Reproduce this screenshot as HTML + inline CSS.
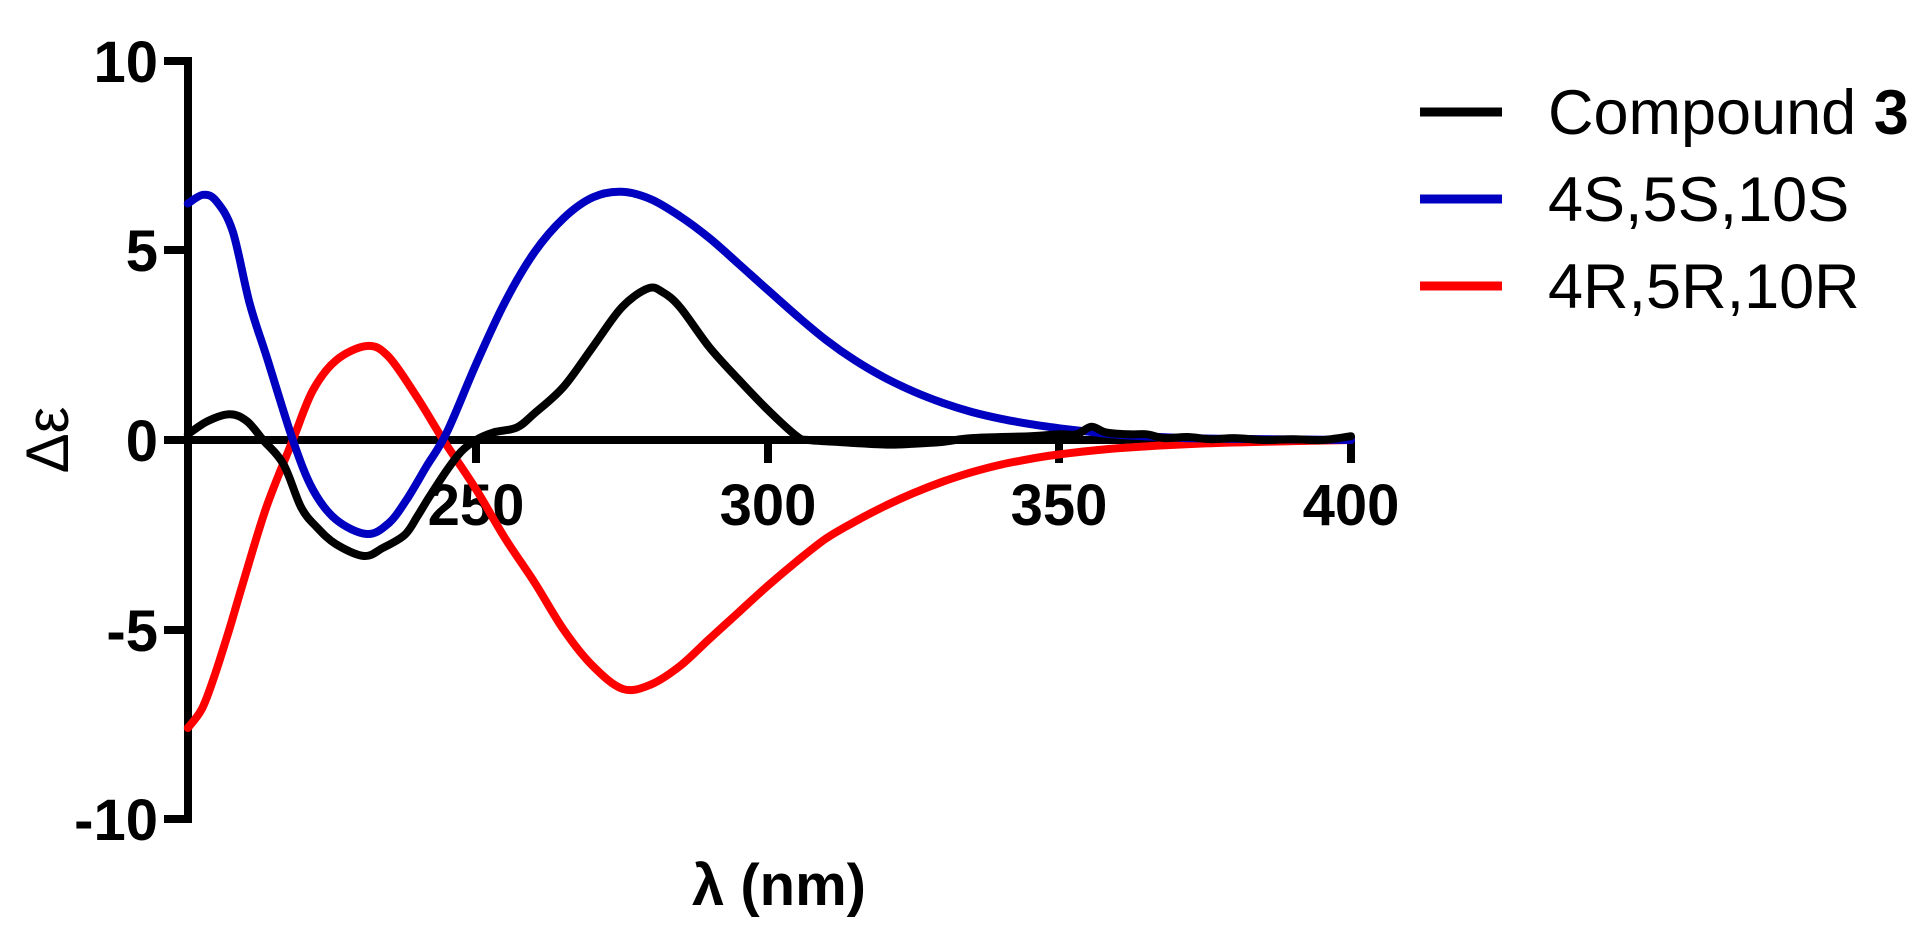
<!DOCTYPE html>
<html><head><meta charset="utf-8"><style>
html,body{margin:0;padding:0;background:#fff;width:1924px;height:942px;overflow:hidden}
svg{display:block}
text{font-family:"Liberation Sans",Arial,sans-serif}
</style></head><body>
<svg id="s" width="1924" height="942" viewBox="0 0 1924 942" xmlns="http://www.w3.org/2000/svg">
<g stroke="#000" stroke-width="8" fill="none" stroke-linecap="butt">
<line x1="188" y1="57" x2="188" y2="823"/>
<line x1="184" y1="440" x2="1355" y2="440"/>
<line x1="164" y1="61" x2="188" y2="61"/>
<line x1="164" y1="250" x2="188" y2="250"/>
<line x1="164" y1="440" x2="188" y2="440"/>
<line x1="164" y1="630" x2="188" y2="630"/>
<line x1="164" y1="819" x2="188" y2="819"/>
<line x1="476" y1="440" x2="476" y2="463"/>
<line x1="768" y1="440" x2="768" y2="463"/>
<line x1="1059" y1="440" x2="1059" y2="463"/>
<line x1="1351" y1="440" x2="1351" y2="463"/>
</g>
<g font-weight="bold" font-size="58" text-anchor="end" fill="#000">
<text x="158" y="82">10</text>
<text x="158" y="271">5</text>
<text x="158" y="461">0</text>
<text x="158" y="651">-5</text>
<text x="158" y="840">-10</text>
</g>
<g font-weight="bold" font-size="58" text-anchor="middle" fill="#000">
<text x="476" y="525">250</text>
<text x="768" y="525">300</text>
<text x="1059" y="525">350</text>
<text x="1351" y="525">400</text>
<text x="779" y="905">λ (nm)</text>
</g>
<text transform="translate(68,440) rotate(-90)" font-size="60" text-anchor="middle" fill="#000">Δε</text>
<g id="curves" fill="none" stroke-width="8" stroke-linejoin="round" stroke-linecap="round"></g>
<g stroke-width="9">
<line x1="1420" y1="112" x2="1502" y2="112" stroke="#000"/>
<line x1="1420" y1="199" x2="1502" y2="199" stroke="#0000c0"/>
<line x1="1420" y1="286" x2="1502" y2="286" stroke="#ff0000"/>
</g>
<g font-size="63" fill="#000">
<text x="1548" y="134">Compound <tspan font-weight="bold">3</tspan></text>
<text x="1548" y="221">4S,5S,10S</text>
<text x="1548" y="308">4R,5R,10R</text>
</g>
</svg>
<script>
function X(n){return 476+(n-250)*5.833;}
function Y(v){return 440-v*37.9;}
var blue=[[200.6,6.24],[203.2,6.47],[205.5,6.3],[208.3,5.5],[211.2,3.6],[214.1,2.2],[218.6,0],[222,-1.3],[226,-2.1],[231.3,-2.48],[235,-2.2],[238,-1.6],[241.5,-0.7],[245,0.2],[250,2.0],[255,3.65],[260,4.95],[265,5.85],[270,6.4],[275,6.55],[280,6.35],[285,5.9],[290,5.33],[295,4.65],[300,3.96],[305,3.28],[310,2.64],[315,2.1],[320,1.65],[325,1.28],[330,0.98],[335,0.74],[340,0.56],[345,0.42],[350,0.31],[355,0.22],[360,0.14],[370,0.06],[380,0.03],[400,0]];
var red=[[200.6,-7.6],[203,-7.1],[205,-6.3],[207.5,-5.1],[210,-3.8],[214,-1.8],[218.6,0],[222,1.3],[226,2.1],[231.3,2.48],[235,2.2],[240,1.1],[244.4,0],[250,-1.3],[255,-2.6],[260,-3.75],[265,-5.0],[270,-5.96],[275.2,-6.57],[280,-6.45],[285,-5.96],[290,-5.25],[295,-4.55],[300,-3.85],[305,-3.2],[310,-2.6],[315,-2.15],[320,-1.75],[325,-1.4],[330,-1.1],[335,-0.85],[340,-0.65],[345,-0.5],[350,-0.38],[360,-0.22],[375,-0.09],[390,-0.03],[400,0]];
var black=[[200.6,0.15],[204,0.5],[207.8,0.68],[210.7,0.5],[213.5,0],[217,-0.64],[220,-1.77],[222.7,-2.3],[226,-2.75],[230.8,-3.06],[234,-2.85],[237.8,-2.5],[240,-2.0],[242,-1.5],[245,-0.8],[247.5,-0.3],[250,0],[253,0.2],[257,0.33],[260,0.7],[265,1.4],[270,2.45],[275,3.5],[279.5,4.0],[282,3.9],[285,3.5],[290,2.45],[295,1.6],[300,0.8],[305,0.1],[307,0],[312,-0.05],[320,-0.12],[325,-0.1],[330,-0.05],[335,0.05],[345,0.1],[350,0.15],[353,0.15],[355.5,0.35],[358,0.2],[362,0.15],[365,0.15],[368,0.05],[372,0.08],[376,0.02],[380,0.05],[385,0.0],[390,0.02],[395,0.0],[400,0.1]];
function path(d){
 var p=d.map(function(a){return [X(a[0]),Y(a[1])];});
 var s="M"+p[0][0].toFixed(1)+","+p[0][1].toFixed(1);
 for(var i=0;i<p.length-1;i++){
  var p0=p[i-1]||p[i],p1=p[i],p2=p[i+1],p3=p[i+2]||p2;
  var c1x=p1[0]+(p2[0]-p0[0])/6,c1y=p1[1]+(p2[1]-p0[1])/6;
  var c2x=p2[0]-(p3[0]-p1[0])/6,c2y=p2[1]-(p3[1]-p1[1])/6;
  s+=" C"+c1x.toFixed(1)+","+c1y.toFixed(1)+" "+c2x.toFixed(1)+","+c2y.toFixed(1)+" "+p2[0].toFixed(1)+","+p2[1].toFixed(1);
 }
 return s;
}
var g=document.getElementById("curves"),ns="http://www.w3.org/2000/svg";
[[red,"#ff0000"],[blue,"#0000c0"],[black,"#000"]].forEach(function(c){
 var e=document.createElementNS(ns,"path");e.setAttribute("d",path(c[0]));e.setAttribute("stroke",c[1]);g.appendChild(e);
});
</script>
</body></html>
